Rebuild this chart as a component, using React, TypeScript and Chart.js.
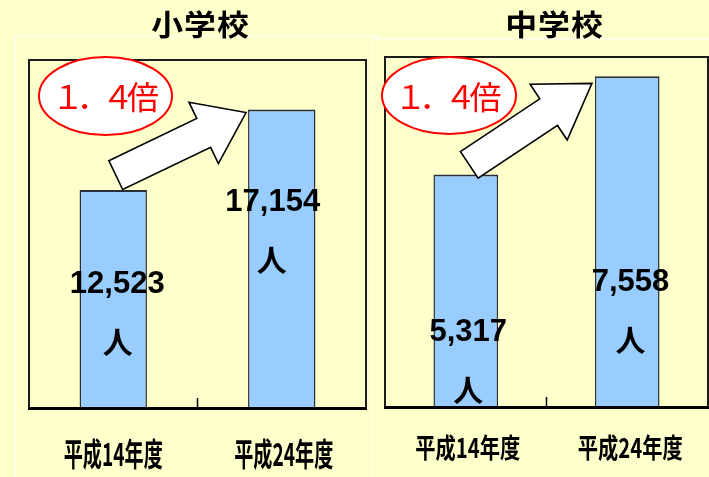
import React, { useEffect, useRef } from "react";
import { Chart, registerables } from "chart.js";

Chart.register(...registerables);

// ---------------- data ----------------
const categories = ["平成14年度", "平成24年度"];
const elementaryValues = [12523, 17154];
const juniorValues = [5317, 7558];
const elementaryTitle = "小学校";
const juniorTitle = "中学校";
const ratioText = "１．４倍";
const unitText = "人";
const elementaryMax = 20000;
const juniorMax = 8000;

// ---------------- styles ----------------
const PAGE_BG = "#FFFFCC";
const BAR_FILL = "#99CCFF";
const BAR_BORDER = "#27303a";
const CJK = "'Noto Sans CJK JP', 'Noto Sans CJK SC', sans-serif";
const LATIN = "'Liberation Sans', Arial, sans-serif";

function drawStretched(
  ctx: CanvasRenderingContext2D,
  text: string,
  cx: number,
  cy: number,
  font: string,
  sx: number,
  spacing: number,
  color: string
) {
  ctx.save();
  ctx.font = font;
  ctx.fillStyle = color;
  ctx.textBaseline = "middle";
  ctx.textAlign = "left";
  const chars = Array.from(text);
  const widths = chars.map((c) => ctx.measureText(c).width);
  const sp = spacing / sx;
  const total = widths.reduce((s, w) => s + w, 0) + sp * (chars.length - 1);
  ctx.translate(cx, cy);
  ctx.scale(sx, 1);
  let x = -total / 2;
  chars.forEach((c, i) => {
    ctx.fillText(c, x, 0);
    x += widths[i] + sp;
  });
  ctx.restore();
}

function fitScale(ctx: CanvasRenderingContext2D, text: string, font: string, target: number) {
  ctx.save();
  ctx.font = font;
  const w = ctx.measureText(text).width;
  ctx.restore();
  return w > 0 ? target / w : 1;
}

const decorPlugin = {
  id: "decor",
  beforeDatasetsDraw(chart: any) {
    const { ctx, chartArea: a } = chart;
    ctx.save();
    ctx.strokeStyle = "#1c1c1c";
    ctx.lineWidth = 2;
    ctx.strokeRect(a.left, a.top, a.right - a.left, a.bottom - a.top);
    ctx.restore();
  },
  afterDatasetsDraw(chart: any) {
    const { ctx, chartArea: a, scales } = chart;
    const xs = scales.x;
    ctx.save();
    ctx.strokeStyle = "#000";
    ctx.lineWidth = 3;
    ctx.beginPath();
    ctx.moveTo(a.left - 1, a.bottom + 0.5);
    ctx.lineTo(a.right + 1, a.bottom + 0.5);
    ctx.stroke();
    ctx.lineWidth = 1.5;
    for (let i = 1; i < categories.length; i++) {
      const px = (xs.getPixelForValue(i - 1) + xs.getPixelForValue(i)) / 2;
      ctx.beginPath();
      ctx.moveTo(px, a.bottom - 10);
      ctx.lineTo(px, a.bottom);
      ctx.stroke();
    }
    ctx.restore();
  },
  afterDraw(chart: any, _args: any, o: any) {
    const { ctx, chartArea: a, scales } = chart;
    const xs = scales.x;
    const meta = chart.getDatasetMeta(0);
    const bars = meta.data;
    const values: number[] = chart.data.datasets[0].data;

    // title
    drawStretched(
      ctx,
      o.title,
      (a.left + a.right) / 2 + o.titleDx,
      o.titleY,
      `bold ${o.titleSize}px ${CJK}`,
      o.titleSx,
      o.titleSpacing,
      "#000"
    );

    // category labels
    const lf = `bold ${o.labelSize}px ${CJK}`;
    categories.forEach((c, i) => {
      const sx = fitScale(ctx, c, lf, o.labelWidth);
      drawStretched(ctx, c, xs.getPixelForValue(i) + o.labelDx[i], o.labelY, lf, sx, 0, "#000");
    });

    // value labels
    bars.forEach((bar: any, i: number) => {
      const [vdx, vdy] = o.valueOffsets[i];
      const [udx, udy] = o.unitOffsets[i];
      drawStretched(
        ctx,
        values[i].toLocaleString("en-US"),
        bar.x + vdx,
        bar.y + vdy,
        `bold 31px ${LATIN}`,
        1,
        0,
        "#000"
      );
      drawStretched(ctx, unitText, bar.x + udx, bar.y + udy, `bold 30px ${CJK}`, 1, 0, "#000");
    });

    // arrow from first bar to second bar
    if (bars.length >= 2) {
      const b0 = bars[0];
      const b1 = bars[1];
      const tx = b0.x + o.arrow.tail[0];
      const ty = b0.y + o.arrow.tail[1];
      const px = b1.x - b1.width / 2 + o.arrow.tip[0];
      const py = b1.y + o.arrow.tip[1];
      const L = Math.hypot(px - tx, py - ty);
      const ux = (px - tx) / L;
      const uy = (py - ty) / L;
      const nx = -uy;
      const ny = ux;
      const s = o.arrow.shaft / 2;
      const h = o.arrow.head / 2;
      const bx = px - ux * o.arrow.headLen;
      const by = py - uy * o.arrow.headLen;
      const pts = [
        [tx - nx * s, ty - ny * s],
        [bx - nx * s, by - ny * s],
        [bx - nx * h, by - ny * h],
        [px, py],
        [bx + nx * h, by + ny * h],
        [bx + nx * s, by + ny * s],
        [tx + nx * s, ty + ny * s],
      ];
      ctx.save();
      ctx.beginPath();
      pts.forEach(([x, y], i) => (i ? ctx.lineTo(x, y) : ctx.moveTo(x, y)));
      ctx.closePath();
      ctx.fillStyle = "#ffffff";
      ctx.fill();
      ctx.lineWidth = 1.6;
      ctx.strokeStyle = "#000";
      ctx.lineJoin = "miter";
      ctx.stroke();
      ctx.restore();
    }

    // ellipse with ratio text
    const ex = a.left + o.ellipse.dx;
    const ey = a.top + o.ellipse.dy;
    ctx.save();
    ctx.beginPath();
    ctx.ellipse(ex, ey, o.ellipse.rx, o.ellipse.ry, 0, 0, Math.PI * 2);
    ctx.fillStyle = "#ffffff";
    ctx.fill();
    ctx.lineWidth = 2;
    ctx.strokeStyle = "#ff0000";
    ctx.stroke();
    ctx.restore();
    drawStretched(ctx, ratioText, ex + o.ratioDx, ey + 1, `400 32px ${CJK}`, 1, -7, "#ff0000");
  },
};

type PanelCfg = {
  left: number;
  width: number;
  height: number;
  padding: { left: number; right: number; top: number; bottom: number };
  decor: any;
};

const leftPanel: PanelCfg = {
  left: 0,
  width: 372,
  height: 477,
  padding: { left: 29, right: 6, top: 60, bottom: 69 },
  decor: {
    title: elementaryTitle,
    titleDx: 2.5,
    titleY: 25,
    titleSize: 29,
    titleSx: 1.1,
    titleSpacing: 1,
    labelSize: 32,
    labelWidth: 99,
    labelY: 454,
    labelDx: [0, 2],
    valueOffsets: [
      [4, 94],
      [-9, 93],
    ],
    unitOffsets: [
      [4.5, 151],
      [-10, 150.5],
    ],
    arrow: { tail: [2.5, -15], tip: [-2, 3], shaft: 32, head: 68, headLen: 47 },
    ellipse: { dx: 76.5, dy: 36, rx: 66.5, ry: 39 },
    ratioDx: 0,
  },
};

const rightPanel: PanelCfg = {
  left: 372,
  width: 337,
  height: 477,
  padding: { left: 13, right: 1, top: 57, bottom: 70 },
  decor: {
    title: juniorTitle,
    titleDx: 7.5,
    titleY: 25,
    titleSize: 29,
    titleSx: 1.1,
    titleSpacing: 1,
    labelSize: 27,
    labelWidth: 105,
    labelY: 448,
    labelDx: [2, 3],
    valueOffsets: [
      [2.5, 158],
      [3.3, 206],
    ],
    unitOffsets: [
      [2.5, 215],
      [3.3, 263.5],
    ],
    arrow: { tail: [3.5, -9.5], tip: [-3, 7], shaft: 32, head: 67, headLen: 52 },
    ellipse: { dx: 64, dy: 38.5, rx: 67, ry: 38.5 },
    ratioDx: -1,
  },
};

function BarPanel({ values, max, cfg }: { values: number[]; max: number; cfg: PanelCfg }) {
  const ref = useRef<HTMLCanvasElement>(null);
  useEffect(() => {
    if (!ref.current) return;
    const chart = new Chart(ref.current, {
      type: "bar",
      data: {
        labels: categories,
        datasets: [
          {
            data: values,
            backgroundColor: BAR_FILL,
            borderColor: BAR_BORDER,
            borderWidth: { top: 2, left: 1.5, right: 1.5, bottom: 0 },
            borderSkipped: "start",
            barPercentage: 0.4,
            categoryPercentage: 1,
          },
        ],
      },
      options: {
        responsive: false,
        animation: false,
        devicePixelRatio: 1,
        layout: { padding: cfg.padding },
        scales: {
          x: { display: false },
          y: { display: false, min: 0, max },
        },
        plugins: {
          legend: { display: false },
          tooltip: { enabled: false },
          title: { display: false },
          decor: cfg.decor,
        } as any,
      },
      plugins: [decorPlugin as any],
    });
    let alive = true;
    const fonts = (document as any).fonts;
    if (fonts && fonts.load) {
      Promise.all([
        fonts.load(`bold 30px ${CJK}`),
        fonts.load(`400 30px ${CJK}`),
        fonts.load(`bold 31px ${LATIN}`),
      ])
        .then(() => alive && chart.draw())
        .catch(() => {});
    }
    return () => {
      alive = false;
      chart.destroy();
    };
  }, []);
  return (
    <canvas
      ref={ref}
      width={cfg.width}
      height={cfg.height}
      style={{
        position: "absolute",
        left: cfg.left,
        top: 0,
        width: cfg.width,
        height: cfg.height,
        display: "block",
      }}
    />
  );
}

export default function App() {
  useEffect(() => {
    document.body.style.margin = "0";
    document.body.style.background = PAGE_BG;
  }, []);
  return (
    <div
      style={{
        position: "fixed",
        left: 0,
        top: 0,
        width: 709,
        height: 477,
        background: PAGE_BG,
        overflow: "hidden",
      }}
    >
      <div
        style={{
          position: "absolute",
          left: 15,
          top: 36,
          width: 366,
          height: 460,
          borderTop: "1.5px solid #ffffff",
          borderLeft: "1.5px solid #ffffff",
          boxSizing: "border-box",
        }}
      />
      <BarPanel values={elementaryValues} max={elementaryMax} cfg={leftPanel} />
      <div
        style={{
          position: "absolute",
          left: 372,
          top: 38,
          width: 337,
          height: 439,
          background: PAGE_BG,
          borderTop: "1.5px solid #ffffff",
          borderLeft: "1.5px solid #ffffff",
          boxSizing: "border-box",
        }}
      />
      <BarPanel values={juniorValues} max={juniorMax} cfg={rightPanel} />
    </div>
  );
}
